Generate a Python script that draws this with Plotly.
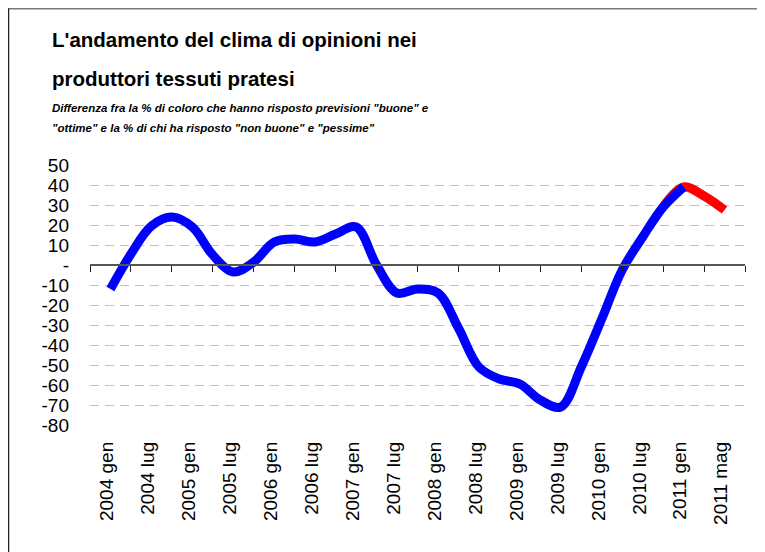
import plotly.graph_objects as go

# Category labels (one per half-year step on the axis)
categories = ["2004 gen", "2004 lug", "2005 gen", "2005 lug", "2006 gen", "2006 lug",
              "2007 gen", "2007 lug", "2008 gen", "2008 lug", "2009 gen", "2009 lug",
              "2010 gen", "2010 lug", "2011 gen", "2011 mag"]

# Readings of the curve at each category and between categories (position in category units)
positions = [0.0, 0.5, 1.0, 1.5, 2.0, 2.5, 3.0, 3.5, 4.0, 4.5, 5.0, 5.5, 6.0, 6.5, 7.0, 7.5,
             8.0, 8.5, 9.0, 9.5, 10.0, 10.5, 11.0, 11.5, 12.0, 12.5, 13.0, 13.5, 14.0, 14.5, 15.0]
saldo = [-12, 5.5, 19.5, 24, 19, 5, -3.5, 1.5, 11.5, 13, 11.5, 15.5, 19, 0, -14, -12,
         -14, -31.5, -51, -57, -59.5, -67.5, -71, -51, -27, -2.5, 14, 29, 39, 34.5, 27.5]

blue_n = 29  # points up to 2011 gen drawn in blue; the rest in red

y_ticks = [50, 40, 30, 20, 10, 0, -10, -20, -30, -40, -50, -60, -70, -80]
y_ticktext = ["50", "40", "30", "20", "10", "-", "-10", "-20", "-30", "-40", "-50", "-60", "-70", "-80"]

W, H = 765, 552
OFF = 8  # page body margin shift
L, R, T, B = 90 - OFF, 20 + OFF, 165 - OFF, 127 + OFF
pw, ph = W - L - R, H - T - B

def px(xs):
    return (xs - OFF - L) / pw

def py(ys):
    return (H - B - (ys - OFF)) / ph

fig = go.Figure()
# red part (drawn first, starting one point earlier so its curve joins smoothly)
fig.add_trace(go.Scatter(x=positions[blue_n - 2:], y=saldo[blue_n - 2:], mode="lines",
                         line=dict(color="#FF0000", width=9, shape="spline", smoothing=1),
                         showlegend=False, hoverinfo="skip"))
fig.add_trace(go.Scatter(x=positions[:blue_n], y=saldo[:blue_n], mode="lines",
                         line=dict(color="#0000FF", width=9, shape="spline", smoothing=1),
                         showlegend=False, hoverinfo="skip"))
# invisible trace on the zero-line axis so it renders
fig.add_trace(go.Scatter(x=[-0.5, 15.5], y=[0, 0], xaxis="x2", mode="lines",
                         line=dict(width=0), showlegend=False, hoverinfo="skip"))

n = len(categories)
fig.update_layout(
    width=W, height=H,
    margin=dict(l=L, r=R, t=T, b=B),
    paper_bgcolor="white", plot_bgcolor="white",
    font=dict(family="Liberation Sans, Arial, sans-serif", color="black"),
    xaxis=dict(range=[-0.5, n - 0.5], tickvals=[i - 0.08 for i in range(n)], ticktext=categories,
               tickangle=-90, showgrid=False, zeroline=False, showline=False, ticks="",
               tickfont=dict(size=19, family="Liberation Sans, Arial, sans-serif"),
               ticklabelstandoff=12),
    xaxis2=dict(range=[-0.5, n - 0.5], overlaying="x", anchor="free",
                position=(0 - (-80)) / 130, showline=True, linecolor="#555555", linewidth=1.5,
                ticks="outside", tickvals=[i - 0.5 for i in range(n + 1)], ticklen=6,
                tickcolor="#222222", tickwidth=1.2, showticklabels=False,
                showgrid=False, zeroline=False, side="bottom"),
    yaxis=dict(range=[-80, 50], tickvals=y_ticks, ticktext=y_ticktext,
               showgrid=True, gridcolor="#c0c0c0", gridwidth=1, griddash="9px,6px",
               zeroline=False, showline=False, ticks="",
               tickfont=dict(size=19, family="Liberation Sans, Arial, sans-serif"),
               ticklabelstandoff=20),
)

# chart-area border (left and top edges visible)
fig.add_shape(type="line", xref="paper", yref="paper",
              x0=px(8), x1=px(790), y0=py(8.5), y1=py(8.5),
              line=dict(color="#7a7a7a", width=2))
fig.add_shape(type="line", xref="paper", yref="paper",
              x0=px(8.5), x1=px(8.5), y0=py(8.5), y1=py(580),
              line=dict(color="#222222", width=1.5))

title_font = dict(family="Liberation Sans, Arial", size=20.5, color="black")
sub_font = dict(family="Liberation Sans, Arial", size=11.5, color="black")

def add_text(txt, xs, baseline, font):
    fig.add_annotation(text=txt, xref="paper", yref="paper", x=px(xs),
                       y=py(baseline - 0.33 * font["size"]), xanchor="left", yanchor="middle",
                       showarrow=False, font=font, align="left")

add_text("<b>L'andamento del clima di opinioni nei</b>", 50, 46.7, title_font)
add_text("<b>produttori tessuti pratesi</b>", 50, 85.5, title_font)
add_text("<b><i>Differenza fra la % di coloro che hanno risposto previsioni \"buone\" e</i></b>", 50, 111.7, sub_font)
add_text("<b><i>\"ottime\" e la % di chi ha risposto \"non buone\" e \"pessime\"</i></b>", 50, 131.7, sub_font)

fig.write_html("out.html")
